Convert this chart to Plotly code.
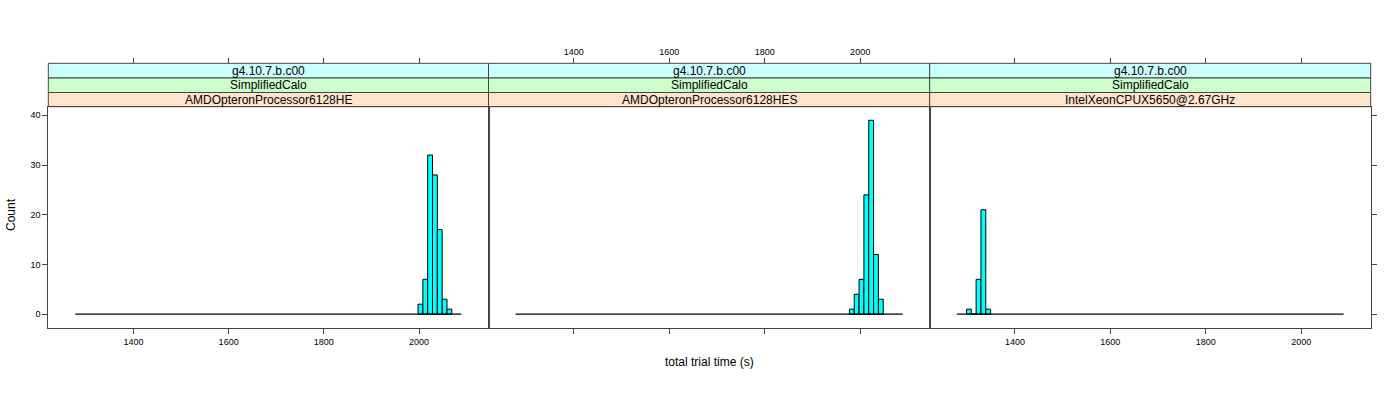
import numpy as np
import plotly.graph_objects as go

# ---------------- data ----------------
version_labels = ["g4.10.7.b.c00", "g4.10.7.b.c00", "g4.10.7.b.c00"]
test_labels = ["SimplifiedCalo", "SimplifiedCalo", "SimplifiedCalo"]
processor_labels = ["AMDOpteronProcessor6128HE", "AMDOpteronProcessor6128HES",
                    "IntelXeonCPUX5650@2.67GHz"]

# common histogram breaks (equal width)
break_lo = 1278.0
break_hi = 2089.0
n_bins = 80

# counts of the non-empty run of bins in each panel, with the index of its first bin
first_bin = [71, 69, 2]
counts_amd_he = [2, 7, 32, 28, 17, 3, 1]
counts_amd_hes = [1, 4, 7, 24, 39, 12, 3]
counts_intel = [1, 0, 7, 21, 1]
panel_counts = [counts_amd_he, counts_amd_hes, counts_intel]

x_ticks = [1400, 1600, 1800, 2000]
y_ticks = [0, 10, 20, 30, 40]

# ---------------- layout geometry ----------------
W, H = 1400, 400
panel_px = [(48.3, 488.5), (488.5, 929.7), (929.7, 1370.7)]
plot_top, plot_bot = 106.7, 327.7
strip_edges = [63.3, 78.0, 92.5, 106.7]  # top of cyan, cyan/green, green/peach, bottom
strip_cols = ["#CCFFFF", "#CCFFCC", "#FFE5CC"]
frame_col = "#444444"
FONT = "Liberation Sans, Arial, sans-serif"

breaks = np.linspace(break_lo, break_hi, n_bins + 1)
bw = breaks[1] - breaks[0]
pad_x = 0.07 * (break_hi - break_lo)
x_range = [break_lo - pad_x, break_hi + pad_x]
ymax = max(max(c) for c in panel_counts)
pad_y = 0.07 * ymax
y_range = [-pad_y, ymax + pad_y]

ydom = [1 - plot_bot / H, 1 - plot_top / H]
strip_top_pos = 1 - strip_edges[0] / H

fig = go.Figure()
layout = dict(width=W, height=H, margin=dict(l=0, r=0, t=0, b=0),
              paper_bgcolor="white", plot_bgcolor="white", showlegend=False,
              font=dict(family=FONT, color="black", size=9))

for i in range(3):
    k = "" if i == 0 else str(i + 1)
    xa, ya = "x" + k, "y" + k
    x0, x1 = panel_px[i]
    dom = [x0 / W, x1 / W]
    # baseline (empty bins drawn as zero-height rectangles)
    fig.add_trace(go.Scatter(x=[breaks[0], breaks[-1]], y=[0, 0], mode="lines",
                             line=dict(color="black", width=1.2),
                             xaxis=xa, yaxis=ya, hoverinfo="skip"))
    c = panel_counts[i]
    idx = np.arange(first_bin[i], first_bin[i] + len(c))
    centers = (breaks[idx] + breaks[idx + 1]) / 2
    fig.add_trace(go.Bar(x=centers, y=c, width=[bw] * len(c),
                         marker=dict(color="#00FFFF", line=dict(color="black", width=1)),
                         xaxis=xa, yaxis=ya))
    bottom_labels = i != 1
    layout["xaxis" + k] = dict(domain=dom, anchor=ya, range=x_range, tickvals=x_ticks,
                               ticks="outside", ticklen=5, tickcolor=frame_col,
                               showticklabels=bottom_labels, showgrid=False, zeroline=False,
                               showline=True, mirror=True, linecolor=frame_col, linewidth=1,
                               tickfont=dict(size=9))
    yax = dict(domain=ydom, anchor=xa, range=y_range, tickvals=y_ticks, showgrid=False,
               zeroline=False, showline=True, mirror=True, linecolor=frame_col,
               linewidth=1, tickfont=dict(size=9))
    if i == 0:
        yax.update(ticks="outside", ticklen=5, tickcolor=frame_col, showticklabels=True)
    elif i == 2:
        yax.update(side="right", ticks="outside", ticklen=5, tickcolor=frame_col,
                   showticklabels=False)
    else:
        yax.update(ticks="", showticklabels=False)
    layout["yaxis" + k] = yax

    # top axis above the strips
    tk = str(i + 4)
    fig.add_trace(go.Scatter(x=[], y=[], xaxis="x" + tk, yaxis=ya, hoverinfo="skip"))
    layout["xaxis" + tk] = dict(overlaying=xa, anchor="free", position=strip_top_pos,
                                side="top", range=x_range, tickvals=x_ticks,
                                ticks="outside", ticklen=5, tickcolor=frame_col,
                                showticklabels=(i == 1), showgrid=False, zeroline=False,
                                showline=False, tickfont=dict(size=9))

    # strips
    labels = [version_labels[i], test_labels[i], processor_labels[i]]
    shapes = layout.setdefault("shapes", [])
    annos = layout.setdefault("annotations", [])
    for s in range(3):
        ys0 = 1 - strip_edges[s + 1] / H
        ys1 = 1 - strip_edges[s] / H
        shapes.append(dict(type="rect", xref="paper", yref="paper", x0=dom[0], x1=dom[1],
                           y0=ys0, y1=ys1, fillcolor=strip_cols[s],
                           line=dict(color=frame_col, width=1), layer="below"))
        annos.append(dict(text=labels[s], xref="paper", yref="paper",
                          x=(dom[0] + dom[1]) / 2, y=(ys0 + ys1) / 2,
                          showarrow=False, xanchor="center", yanchor="middle",
                          font=dict(size=12, family=FONT)))

layout["annotations"].append(dict(text="total trial time (s)", xref="paper", yref="paper",
                                  x=709 / W, y=1 - 362 / H, showarrow=False,
                                  xanchor="center", yanchor="middle",
                                  font=dict(size=12, family=FONT)))
layout["annotations"].append(dict(text="Count", xref="paper", yref="paper",
                                  x=11 / W, y=1 - 215 / H, showarrow=False, textangle=-90,
                                  xanchor="center", yanchor="middle",
                                  font=dict(size=12, family=FONT)))

fig.update_layout(**layout)
fig.write_html("out.html")
